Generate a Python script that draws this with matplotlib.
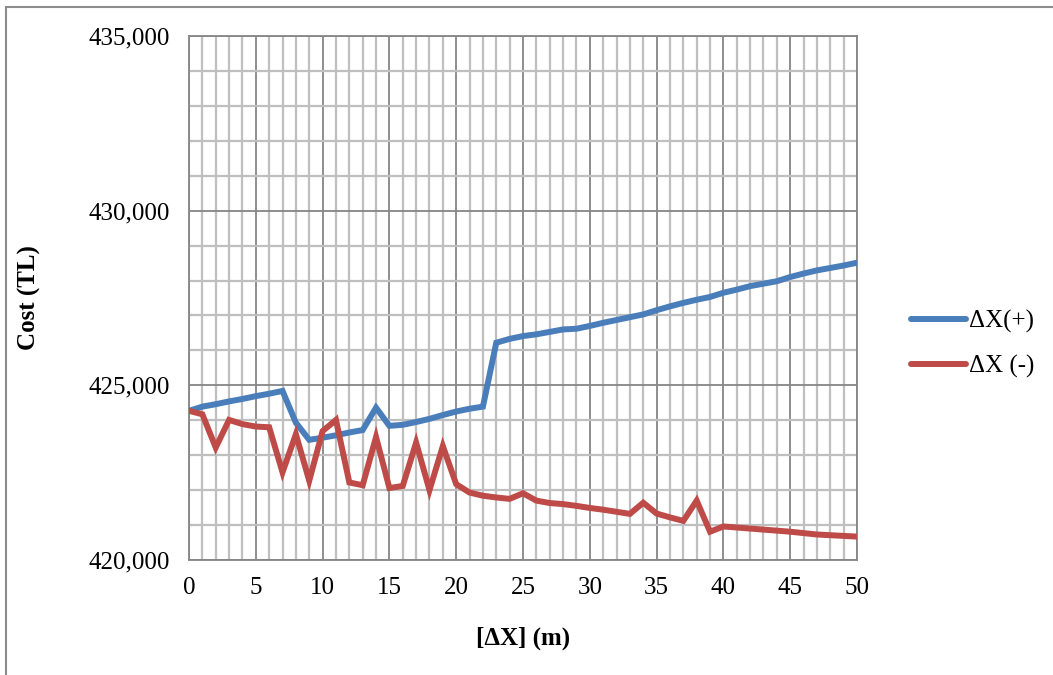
import matplotlib
matplotlib.use("Agg")
import matplotlib.pyplot as plt
from matplotlib.ticker import MultipleLocator, FuncFormatter
from matplotlib.patches import Rectangle

x_vals = list(range(0, 51))
cost_plus = [424270, 424390, 424460, 424540, 424610, 424690, 424760, 424840, 423930, 423440,
             423500, 423570, 423650, 423720, 424360, 423840, 423870, 423950, 424040, 424150,
             424250, 424330, 424390, 426220, 426330, 426410, 426460, 426530, 426600, 426620,
             426700, 426790, 426870, 426950, 427030, 427150, 427260, 427360, 427450, 427530,
             427650, 427740, 427840, 427910, 427980, 428100, 428200, 428290, 428360, 428430,
             428510]
cost_minus = [424270, 424170, 423220, 424010, 423890, 423820, 423800, 422510, 423600, 422270,
              423690, 424010, 422220, 422140, 423520, 422060, 422120, 423360, 422000, 423260,
              422170, 421930, 421840, 421790, 421750, 421910, 421700, 421630, 421600, 421550,
              421490, 421440, 421380, 421320, 421640, 421330, 421220, 421120, 421700, 420810,
              420960, 420930, 420900, 420870, 420840, 420810, 420770, 420730, 420710, 420690,
              420670]
series_names = ["ΔX(+)", "ΔX (-)"]
x_label = "[ΔX] (m)"
y_label = "Cost (TL)"

W, H = 1053, 675
fig = plt.figure(figsize=(W / 100, H / 100), dpi=100)
plt.rcParams['font.family'] = ['Liberation Serif', 'DejaVu Serif']

ax = fig.add_axes([189 / W, 1 - 560 / H, (857 - 189) / W, (560 - 36) / H])
ax.set_xlim(0, 50)
ax.set_ylim(420000, 435000)

ax.xaxis.set_major_locator(MultipleLocator(5))
ax.xaxis.set_minor_locator(MultipleLocator(1))
ax.yaxis.set_major_locator(MultipleLocator(5000))
ax.yaxis.set_minor_locator(MultipleLocator(1000))
ax.yaxis.set_major_formatter(FuncFormatter(lambda v, p: f"{int(v):,}"))

ax.grid(which='minor', color='#BFBFBF', linewidth=1.6, zorder=0)
ax.grid(which='major', color='#868686', linewidth=1.3, zorder=0)
ax.set_axisbelow(True)
for s in ax.spines.values():
    s.set_color('#868686')
    s.set_linewidth(1.3)

ax.tick_params(which='both', length=0, labelsize=18, pad=14)
ax.tick_params(axis='x', pad=12)

l1, = ax.plot(x_vals, cost_plus, color='#4A7EBB', linewidth=4.3, solid_capstyle='round',
              solid_joinstyle='miter', zorder=3, label=series_names[0])
l2, = ax.plot(x_vals, cost_minus, color='#BE4B48', linewidth=4.3, solid_capstyle='round',
              solid_joinstyle='miter', zorder=3, label=series_names[1])

ax.set_xlabel(x_label, fontsize=18, fontweight='bold', labelpad=20)
ax.set_ylabel(y_label, fontsize=18, fontweight='bold', labelpad=34)

fig.legend(handles=[l1, l2], labels=series_names, loc='center left',
           bbox_to_anchor=(888 / W, 1 - 344 / H), frameon=False, fontsize=18,
           handlelength=2.2, handletextpad=0.15, labelspacing=0.85)

fig.patches.append(Rectangle((5.5 / W, -0.1), 1.2, 1 - 7.5 / H + 0.1, transform=fig.transFigure,
                             fill=False, edgecolor='#8C8C8C', linewidth=1.5))

fig.savefig("out.png", dpi=100)
